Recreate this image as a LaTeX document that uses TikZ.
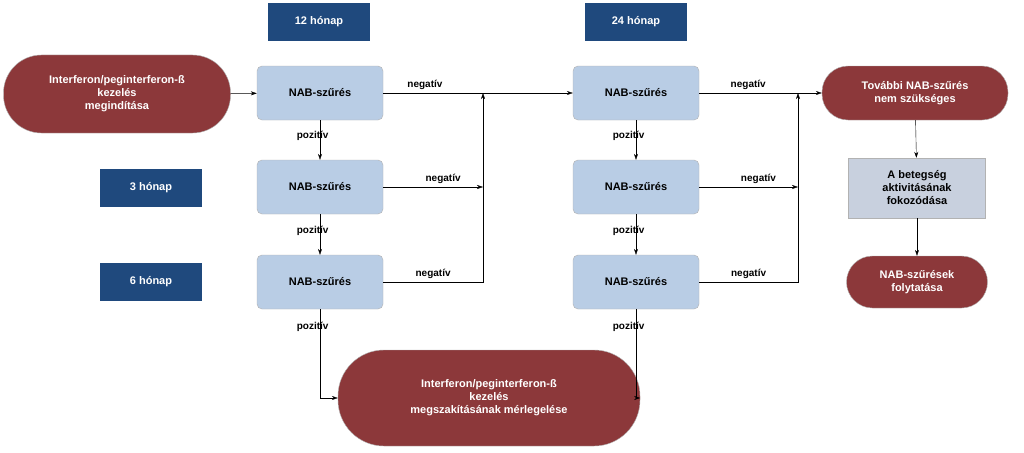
\documentclass[tikz,border=0pt]{standalone}
\usepackage{fontspec}
\setmainfont{Liberation Sans}
\definecolor{hdblue}{RGB}{31,73,125}
\definecolor{nabblue}{RGB}{185,205,229}
\definecolor{endred}{RGB}{140,56,58}
\definecolor{actgray}{RGB}{200,208,222}
\tikzset{
  month/.style={fill=hdblue,text=white,font=\bfseries\fontsize{11}{13}\selectfont,minimum width=102pt,minimum height=38pt},
  nab/.style={draw=gray!60,fill=nabblue,rounded corners=5pt,font=\bfseries\fontsize{11}{13}\selectfont,minimum width=126pt,minimum height=54pt},
  term/.style={draw=gray!60,fill=endred,text=white,align=center,font=\bfseries\fontsize{11}{13}\selectfont},
  lbl/.style={font=\bfseries\fontsize{10}{12}\selectfont},
  arr/.style={-{Stealth[length=6pt,width=4pt]}}
}
\usetikzlibrary{arrows.meta}
\begin{document}
\begin{tikzpicture}[x=1pt,y=-1pt]
  \useasboundingbox[fill=white] (0,0) rectangle (1024,452);
  % month headers
  \node[month] (m12) at (319,22) {12 hónap};
  \node[month] (m24) at (636,22) {24 hónap};
  \node[month] (m3) at (151,188) {3 hónap};
  \node[month] (m6) at (151,282) {6 hónap};
  % start and end nodes
  \node[term,rounded corners=38pt,minimum width=227pt,minimum height=78pt] (start) at (117,94) {Interferon/peginterferon-ß\\kezelés\\megindítása};
  \node[term,rounded corners=46pt,minimum width=302pt,minimum height=96pt] (stop) at (489,398) {Interferon/peginterferon-ß\\kezelés\\megszakításának mérlegelése};
  \node[term,rounded corners=26pt,minimum width=186pt,minimum height=54pt] (nomore) at (915,93) {További NAB-szűrés\\nem szükséges};
  \node[draw=gray!60,fill=actgray,align=center,font=\bfseries\fontsize{11}{13}\selectfont,minimum width=137pt,minimum height=60pt] (act) at (917,188) {A betegség\\aktivitásának\\fokozódása};
  \node[term,rounded corners=26pt,minimum width=141pt,minimum height=52pt] (cont) at (917,282) {NAB-szűrések\\folytatása};
  % screenings
  \node[nab] (a1) at (320,93) {NAB-szűrés};
  \node[nab] (a2) at (320,187) {NAB-szűrés};
  \node[nab] (a3) at (320,282) {NAB-szűrés};
  \node[nab] (b1) at (636,93) {NAB-szűrés};
  \node[nab] (b2) at (636,187) {NAB-szűrés};
  \node[nab] (b3) at (636,282) {NAB-szűrés};
  \coordinate (ja) at (483,93);
  \coordinate (jb) at (798,93);
  % connectors
  \draw[arr] (start) -- (a1);
  \draw[arr] (a1) -- node[lbl,above,pos=0.22] {negatív} (b1);
  \draw[arr] (a2) -- node[lbl,above,pos=0.6] {negatív} (ja |- a2);
  \draw[arr] (a3) -- node[lbl,above,pos=0.5] {negatív} (ja |- a3) -- (ja);
  \draw[arr] (b1) -- node[lbl,above,pos=0.4] {negatív} (nomore);
  \draw[arr] (b2) -- node[lbl,above,pos=0.6] {negatív} (jb |- b2);
  \draw[arr] (b3) -- node[lbl,above,pos=0.5] {negatív} (jb |- b3) -- (jb);
  \draw[arr] (a1) -- node[lbl,pos=0.4,left=-12pt] {pozitív} (a2);
  \draw[arr] (a2) -- node[lbl,pos=0.4,left=-12pt] {pozitív} (a3);
  \draw[arr] (b1) -- node[lbl,pos=0.4,left=-12pt] {pozitív} (b2);
  \draw[arr] (b2) -- node[lbl,pos=0.4,left=-12pt] {pozitív} (b3);
  \draw[arr] (a3) -- node[lbl,pos=0.2,left=-12pt] {pozitív} (a3 |- stop) -- (stop);
  \draw[arr] (b3) -- node[lbl,pos=0.2,left=-12pt] {pozitív} (b3 |- stop) -- (stop);
  \draw[arr] (nomore) -- (act);
  \draw[arr] (act) -- (cont);
\end{tikzpicture}
\end{document}
